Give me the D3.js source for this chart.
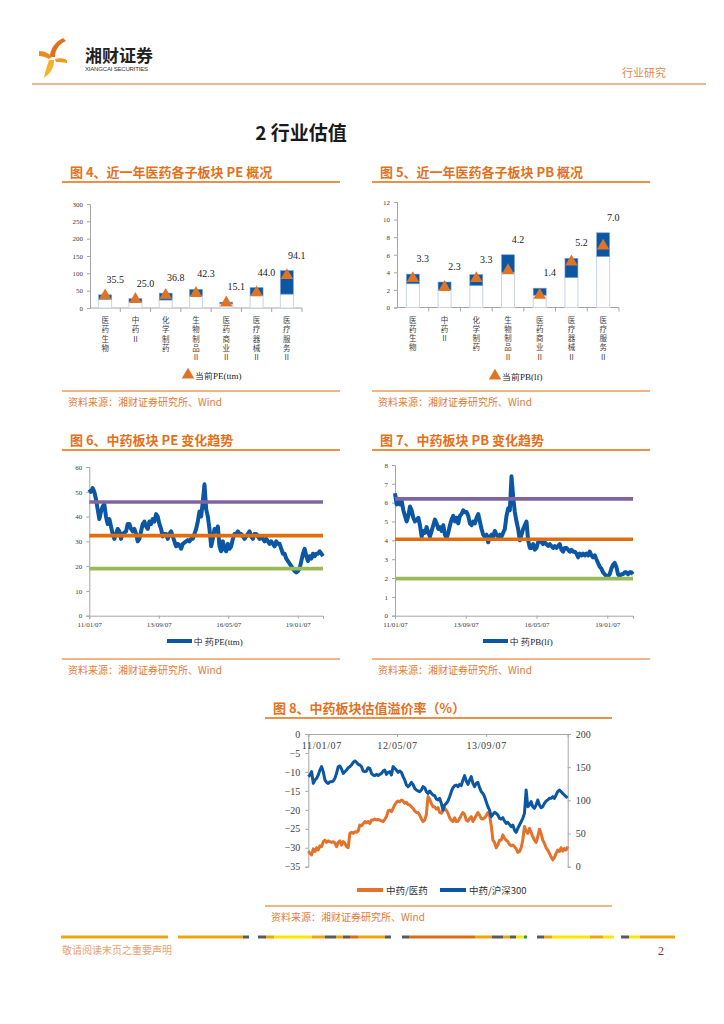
<!DOCTYPE html>
<html><head><meta charset="utf-8">
<script src="https://cdn.jsdelivr.net/npm/d3@7"></script>
<style>body{margin:0;background:#fff} svg{display:block}</style>
</head><body>
<svg id="page" width="724" height="1024"></svg>
<script>
// ---------------- DATA ----------------
const categories = ["医药生物","中药Ⅱ","化学制药","生物制品Ⅱ","医药商业Ⅱ","医疗器械Ⅱ","医疗服务Ⅱ"];
const peLow = [25,17,23,35,12,36,40];
const peHigh = [38,27,43,54,17,59,108];
const peCurrent = [35.5,25.0,36.8,42.3,15.1,44.0,94.1];
const pbLow = [2.7,2.0,2.5,4.0,1.4,3.4,5.8];
const pbHigh = [3.8,2.9,3.75,6.0,2.2,5.6,8.5];
const pbCurrent = [3.3,2.3,3.3,4.2,1.4,5.2,7.0];
const peBarTicks = [0,50,100,150,200,250,300];
const pbBarTicks = [0,2,4,6,8,10,12];

const trendStart = "2011-01-07", trendEnd = "2019-12-27";
const trendTickDates = ["2011-01-07","2013-09-07","2016-05-07","2019-01-07"];
const peTrend = [51,50,51.5,50,47,43,39,42,44,45,40,37,39,36,33,31,33,35,34,31,33,33.5,34,37,37,35,34,35,33,30,
  31,34,37,38,36,35,38,37,39,38,41,40,37,35,32,33,33,31,33,34,32,30,28,29,28.5,27,29,29.5,30,30.5,
  30,31,31,33,35,38,42,40,46,53,43,40,35,28,31,35,34,36,28,26,30,27,26,29,27,28,31,33,33,34,
  33,33,32,31,32,33,34,32,31,33,33,32,31,32,31,30,31,30,29,30,29,28,30,29,29,27,25,25,23,22,
  21,20,19,18,17.5,18,19,22,25,27,24,22,24,23,25,24,25,25,26,25,24];
const peTrendTicks = [0,10,20,30,40,50,60];
const peRefLines = [45.9,32.3,19.0];
const pbTrend = [6.5,5.9,6.2,5.9,6.1,5.6,5.3,5.0,5.3,5.8,5.6,5.2,5.0,5.1,5.2,4.8,4.2,4.5,4.4,4.7,4.4,4.2,4.5,4.8,5.1,4.9,4.6,4.7,4.5,4.8,
  4.3,4.1,4.4,4.8,5.1,5.3,5.0,5.2,4.9,5.3,5.4,5.6,5.5,5.5,5.3,4.9,4.8,5.0,4.9,5.2,5.4,5.0,4.6,4.3,4.2,4.3,3.9,4.2,4.3,4.2,
  4.5,4.3,4.2,4.3,4.2,4.4,4.6,5.3,5.7,5.6,7.4,6.3,5.5,5.0,4.6,4.0,4.3,4.6,4.8,5.0,4.0,3.6,3.6,3.8,3.5,3.6,3.9,4.0,3.9,3.8,
  3.9,3.8,3.7,3.8,3.7,3.6,3.7,3.6,3.7,3.8,3.5,3.4,3.6,3.6,3.5,3.4,3.5,3.4,3.4,3.3,3.1,3.3,3.2,3.3,3.2,3.3,3.2,3.4,3.2,3.1,
  3.2,3.0,2.8,2.6,2.5,2.3,2.2,2.1,2.1,2.2,2.5,2.7,2.8,2.6,2.2,2.1,2.2,2.2,2.3,2.3,2.2,2.3,2.3,2.2];
const pbTrendTicks = [0,1,2,3,4,5,6,7,8];
const pbRefLines = [6.2,4.06,1.97];

const premStart = "2011-01-07", premEnd = "2014-11-28";
const premTickDates = ["2011-01-07","2012-05-07","2013-09-07"];
const premVsMedicine = [-30.9,-31.5,-31.9,-30.3,-31.0,-30.0,-30.6,-29.5,-29.7,-28.4,-28.0,-28.6,-28.2,-28.4,-28.6,-28.4,-28.7,-29.7,-28.6,-28.2,
  -29.3,-28.4,-28.8,-29.7,-30.0,-26.2,-25.9,-26.2,-25.8,-25.9,-25.6,-24.0,-24.2,-23.7,-23.1,-23.4,-23.1,-23.6,-22.7,-22.7,
  -22.4,-22.7,-22.5,-22.7,-22.9,-23.1,-22.5,-21.8,-20.3,-20.1,-20.5,-19.6,-18.7,-18.0,-17.7,-17.9,-17.4,-17.7,-18.3,-18.0,
  -18.6,-18.7,-19.2,-19.6,-20.3,-20.7,-20.7,-21.4,-22.4,-23.1,-22.7,-21.2,-16.5,-17.2,-18.3,-19.2,-19.2,-19.8,-19.4,-20.7,
  -20.9,-20.3,-19.6,-20.1,-20.9,-22.1,-22.7,-23.1,-22.1,-23.1,-23.0,-22.3,-21.4,-20.7,-21.2,-22.7,-23.0,-22.3,-21.8,-23.1,
  -22.3,-21.5,-20.7,-21.4,-22.3,-22.4,-22.1,-21.5,-20.7,-21.5,-24.0,-28.0,-28.6,-30.0,-29.3,-28.0,-28.0,-26.6,-27.5,-28.0,
  -28.4,-29.1,-29.5,-29.3,-29.7,-30.3,-31.2,-31.0,-30.0,-28.0,-24.4,-25.6,-26.2,-24.9,-25.9,-27.1,-28.0,-28.6,-27.1,-25.1,
  -26.2,-28.0,-28.8,-30.0,-30.6,-31.5,-32.4,-33.2,-32.6,-31.5,-30.6,-31.0,-30.0,-30.9,-30.2,-30.6,-29.7];
const premVsHS300 = [135.7,138.2,143.2,125.6,130.7,133.2,138.2,145.7,150.8,143.2,130.7,127.1,125.6,128.1,128.1,129.1,133.2,140.7,150.8,151.8,
  147.2,140.7,143.2,145.7,149.2,150.8,153.3,157.3,159.3,157.3,154.3,153.3,150.8,144.2,143.2,144.2,149.2,148.2,140.7,138.2,
  137.2,139.2,137.2,139.2,140.7,144.2,145.7,139.2,142.2,143.2,138.2,150.8,148.2,145.7,142.2,144.2,142.2,135.7,130.7,123.1,
  120.6,123.1,127.1,124.1,118.1,115.6,114.1,113.1,115.6,120.6,119.1,113.1,110.6,114.1,110.6,108.0,107.0,102.0,100.5,103.0,
  95.5,85.4,93.0,95.5,99.0,105.5,113.1,119.1,122.1,123.1,120.6,124.1,122.1,130.7,137.2,129.1,124.1,130.7,135.7,125.6,
  120.6,125.6,127.1,119.1,113.1,110.6,105.5,98.0,90.5,85.4,75.4,78.9,81.9,80.4,77.9,72.9,71.9,73.9,68.8,65.3,
  66.8,63.8,60.3,62.8,55.3,51.8,57.8,62.8,67.8,72.9,80.4,115.6,90.5,93.0,98.0,90.5,88.0,93.0,100.5,93.0,
  89.0,90.5,95.5,99.0,100.5,103.0,103.0,105.5,103.0,108.0,113.1,115.6,113.1,110.6,108.0,105.5,104.0];
const premLeftTicks = [0,-5,-10,-15,-20,-25,-30,-35];
const premRightTicks = [0,50,100,150,200];

// ---------------- STYLE ----------------
const ORANGE = "#e46c0a", TITLE = "#e4701c", BLUE = "#0b57a4", TRI = "#e07426";
const PURPLE = "#8064a2", GREEN = "#9bbb59", AXIS = "#a6a6a6", TXT = "#404040";
const CJK = "'Noto Sans CJK SC', sans-serif", SERIF = "'Liberation Serif', 'DejaVu Serif', serif";
const svg = d3.select("#page");
const parse = d3.timeParse("%Y-%m-%d");
const fmt = d3.timeFormat("%y/%m/%d");

// ---------------- HEADER ----------------
const logo = svg.append("g");
logo.append("path").attr("d","M63 38 C55 42 50 49 50 57 L55 57 C55 50 59 44 66 41 Z").attr("fill","#e0701c");
logo.append("path").attr("d","M39 51 C45 51 50 54 52 57 L49 59 C46 57 42 56 39 56 Z").attr("fill","#f08a1c");
logo.append("path").attr("d","M55 59 C59 58 63 58 67 60 L67 63 C63 62 59 62 56 62 Z").attr("fill","#f39a1e");
logo.append("path").attr("d","M49 60 L54 60 C54 67 51 73 44 78 C45 72 47 66 49 60 Z").attr("fill","#f7b02a");
svg.append("text").attr("x",85).attr("y",62).attr("font-family",CJK).attr("font-weight",700)
  .attr("font-size",17).attr("fill","#222").text("湘财证券");
svg.append("text").attr("x",85).attr("y",71).attr("font-family","'Liberation Sans Narrow','Liberation Sans',sans-serif")
  .attr("font-size",6).attr("fill","#333").attr("textLength",63).text("XIANGCAI SECURITIES");
svg.append("text").attr("x",622).attr("y",77).attr("font-family",CJK).attr("font-size",11)
  .attr("fill","#e08a50").text("行业研究");
svg.append("line").attr("x1",32).attr("x2",706).attr("y1",84).attr("y2",84)
  .attr("stroke","#e4a070").attr("stroke-width",1.5);
svg.append("text").attr("x",301).attr("y",140).attr("text-anchor","middle").attr("font-family",CJK)
  .attr("font-weight",700).attr("font-size",19).attr("fill","#1a1a1a").text("2 行业估值");

// ---------------- HELPERS ----------------
function frame(x0, x1, titleY, title, sourceLineY) {
  svg.append("text").attr("x",x0+8).attr("y",titleY).attr("font-family",CJK).attr("font-weight",700)
    .attr("font-size",13).attr("fill",TITLE).text(title);
  svg.append("line").attr("x1",x0).attr("x2",x1).attr("y1",titleY+5).attr("y2",titleY+5)
    .attr("stroke",ORANGE).attr("stroke-width",1.4);
  svg.append("line").attr("x1",x0).attr("x2",x1).attr("y1",sourceLineY).attr("y2",sourceLineY)
    .attr("stroke",ORANGE).attr("stroke-width",1);
  svg.append("text").attr("x",x0+6).attr("y",sourceLineY+15).attr("font-family",CJK)
    .attr("font-size",10).attr("fill","#e07b39").text("资料来源：湘财证券研究所、Wind");
}
function styleAxis(g, fs) {
  g.select(".domain").attr("stroke",AXIS);
  g.selectAll(".tick line").attr("stroke",AXIS);
  g.selectAll(".tick text").attr("fill",TXT).attr("font-family",SERIF).attr("font-size",fs);
}

function barChart(c) {
  const x = d3.scaleBand().domain(categories).range([c.x0,c.x1]).paddingInner(0).paddingOuter(0);
  const y = d3.scaleLinear().domain([0,c.ticks[c.ticks.length-1]]).range([c.y0,c.y1]);
  const g = svg.append("g");
  const ay = g.append("g").attr("transform",`translate(${c.x0},0)`)
    .call(d3.axisLeft(y).tickValues(c.ticks).tickSize(3).tickPadding(4));
  styleAxis(ay, 7);
  g.append("line").attr("x1",c.x0).attr("x2",c.x1).attr("y1",c.y0).attr("y2",c.y0).attr("stroke",AXIS);
  g.selectAll(".bt").data(categories).enter().append("line")
    .attr("x1",d=>x(d)+x.bandwidth()).attr("x2",d=>x(d)+x.bandwidth())
    .attr("y1",c.y0).attr("y2",c.y0+4).attr("stroke",AXIS);
  const bw = 13;
  const cx = d => x(d) + x.bandwidth()/2;
  g.selectAll(".lowbar").data(categories).enter().append("rect")
    .attr("x",d=>cx(d)-bw/2).attr("width",bw)
    .attr("y",(d,i)=>y(c.low[i])).attr("height",(d,i)=>c.y0-y(c.low[i]))
    .attr("fill","#fff").attr("stroke","#c8d4e8").attr("stroke-width",1);
  g.selectAll(".rangebar").data(categories).enter().append("rect")
    .attr("x",d=>cx(d)-bw/2).attr("width",bw)
    .attr("y",(d,i)=>y(c.high[i])).attr("height",(d,i)=>y(c.low[i])-y(c.high[i]))
    .attr("fill",BLUE).attr("stroke","#7fa6d6").attr("stroke-width",0.6);
  const tri = d3.symbol().type(d3.symbolTriangle).size(68);
  g.selectAll(".tri").data(categories).enter().append("path")
    .attr("d",tri).attr("fill",TRI)
    .attr("transform",(d,i)=>`translate(${cx(d)},${y(c.cur[i])})`);
  g.selectAll(".lbl").data(categories).enter().append("text")
    .attr("x",d=>cx(d)+10).attr("y",(d,i)=>y(c.high[i])-12).attr("text-anchor","middle")
    .attr("font-family",SERIF).attr("font-size",10).attr("fill","#222")
    .text((d,i)=>c.cur[i].toFixed(1));
  categories.forEach(cat => {
    Array.from(cat).forEach((ch,k) => {
      g.append("text").attr("x",cx(cat)).attr("y",c.y0+15+k*9.3).attr("text-anchor","middle")
        .attr("font-family",CJK).attr("font-size",7.5).attr("fill",TXT).text(ch);
    });
  });
  g.append("path").attr("d",tri).attr("fill",TRI).attr("transform",`translate(${c.legX},${c.legY})`);
  g.append("text").attr("x",c.legX+7).attr("y",c.legY+3.5).attr("font-family",SERIF)
    .attr("font-size",9).attr("fill","#222").text(c.legText);
}

function trendChart(c) {
  const n = c.series.length;
  const t0 = parse(c.start), t1 = parse(c.end);
  const dates = c.series.map((v,i)=> new Date(+t0 + (t1 - t0) * i/(n-1)));
  const x = d3.scaleTime().domain([t0,t1]).range([c.x0,c.x1]);
  const y = d3.scaleLinear().domain([0,c.ticks[c.ticks.length-1]]).range([c.y0,c.y1]);
  const g = svg.append("g");
  const ay = g.append("g").attr("transform",`translate(${c.x0},0)`)
    .call(d3.axisLeft(y).tickValues(c.ticks).tickSize(3).tickPadding(4));
  styleAxis(ay, 7);
  const ax = g.append("g").attr("transform",`translate(0,${c.y0})`)
    .call(d3.axisBottom(x).tickValues(c.tickDates.map(parse)).tickFormat(fmt).tickSize(3).tickPadding(3));
  styleAxis(ax, 7);
  const line = d3.line().x((d,i)=>x(dates[i])).y(d=>y(d)).curve(d3.curveLinear);
  g.append("path").datum(c.series).attr("d",line).attr("fill","none").attr("stroke",BLUE)
    .attr("stroke-width",4).attr("stroke-linejoin","round");
  const refColors = [PURPLE, ORANGE, GREEN];
  g.selectAll(".ref").data(c.refs).enter().append("line")
    .attr("x1",c.x0).attr("x2",c.x1).attr("y1",d=>y(d)).attr("y2",d=>y(d))
    .attr("stroke",(d,i)=>refColors[i]).attr("stroke-width",3.6);
  g.append("line").attr("x1",c.legX).attr("x2",c.legX+25).attr("y1",c.legY).attr("y2",c.legY)
    .attr("stroke",BLUE).attr("stroke-width",4);
  g.append("text").attr("x",c.legX+27).attr("y",c.legY+3.5).attr("font-family",SERIF)
    .attr("font-size",9).attr("fill","#222").text(c.legText);
}

// ---------------- CHARTS 4 & 5 ----------------
frame(62,340,177,"图 4、近一年医药各子板块 PE 概况",391);
frame(372,650,177,"图 5、近一年医药各子板块 PB 概况",391);
barChart({x0:90,x1:302,y0:308,y1:204,ticks:peBarTicks,low:peLow,high:peHigh,cur:peCurrent,
  legX:188,legY:375,legText:"当前PE(ttm)"});
barChart({x0:397,x1:619,y0:307.5,y1:202,ticks:pbBarTicks,low:pbLow,high:pbHigh,cur:pbCurrent,
  legX:495,legY:376,legText:"当前PB(lf)"});

// ---------------- CHARTS 6 & 7 ----------------
frame(62,340,445,"图 6、中药板块 PE 变化趋势",659);
frame(372,650,445,"图 7、中药板块 PB 变化趋势",659);
trendChart({x0:89.3,x1:323,y0:615.7,y1:467,ticks:peTrendTicks,series:peTrend,refs:peRefLines,
  start:trendStart,end:trendEnd,tickDates:trendTickDates,legX:167,legY:641,legText:"中 药PE(ttm)"});
trendChart({x0:395,x1:633,y0:615.7,y1:465,ticks:pbTrendTicks,series:pbTrend,refs:pbRefLines,
  start:trendStart,end:trendEnd,tickDates:trendTickDates,legX:483,legY:641,legText:"中 药PB(lf)"});

// ---------------- CHART 8 ----------------
frame(265,612,713,"图 8、中药板块估值溢价率（%）",906);
(function(){
  const x0 = 308.3, x1 = 567.7, y0 = 866.7, y1 = 734;
  const n = premVsMedicine.length;
  const t0 = parse(premStart), t1 = parse(premEnd);
  const dates = premVsMedicine.map((v,i)=> new Date(+t0 + (t1-t0)*i/(n-1)));
  const x = d3.scaleTime().domain([t0,t1]).range([x0,x1]);
  const yL = d3.scaleLinear().domain([-35,0]).range([y0,y1]);
  const yR = d3.scaleLinear().domain([0,200]).range([y0,y1]);
  const g = svg.append("g");
  const aL = g.append("g").attr("transform",`translate(${x0},0)`)
    .call(d3.axisLeft(yL).tickValues(premLeftTicks).tickSize(3).tickPadding(5));
  styleAxis(aL, 10);
  const aR = g.append("g").attr("transform",`translate(${x1},0)`)
    .call(d3.axisRight(yR).tickValues(premRightTicks).tickSize(3).tickPadding(5));
  styleAxis(aR, 10);
  const aX = g.append("g").attr("transform",`translate(0,${y1})`)
    .call(d3.axisBottom(x).tickValues(premTickDates.map(parse)).tickFormat(d=>fmt(d)).tickSize(3).tickPadding(5));
  styleAxis(aX, 10);
  aX.selectAll(".tick text").attr("letter-spacing",0.6);
  // first date label nudged right so it does not collide with the "-5" tick label
  aX.selectAll(".tick text").filter((d,i)=>i===0).attr("text-anchor","start").attr("dx",-7);
  const lineL = d3.line().x((d,i)=>x(dates[i])).y(d=>yL(d));
  const lineR = d3.line().x((d,i)=>x(dates[i])).y(d=>yR(d));
  g.append("path").datum(premVsMedicine).attr("d",lineL).attr("fill","none").attr("stroke","#e4722a")
    .attr("stroke-width",3).attr("stroke-linejoin","round");
  g.append("path").datum(premVsHS300).attr("d",lineR).attr("fill","none").attr("stroke",BLUE)
    .attr("stroke-width",3).attr("stroke-linejoin","round");
  const leg = [{c:"#e4722a",t:"中药/医药",x:357},{c:BLUE,t:"中药/沪深300",x:440}];
  leg.forEach(l=>{
    g.append("line").attr("x1",l.x).attr("x2",l.x+26).attr("y1",890).attr("y2",890)
      .attr("stroke",l.c).attr("stroke-width",4);
    g.append("text").attr("x",l.x+29).attr("y",894).attr("font-family",CJK).attr("font-size",9.5)
      .attr("fill","#333").text(l.t);
  });
})();

// ---------------- FOOTER ----------------
const fsegs = [[61,168,"#f0a30a"],[178,243,"#f0a30a"],[243,249,"#5a5a5a"],
  [258,266,"#5a5a5a"],[266,274,"#f0a30a"],[274,312,"#ffe600"],[312,325,"#f0a30a"],[325,336,"#5a5a5a"],[336,343,"#f0a30a"],
  [343,350,"#5a5a5a"],[350,358,"#e06a10"],[358,385,"#f0a30a"],[385,391,"#5a5a5a"],
  [402,409,"#5a5a5a"],[409,475,"#e06a10"],[475,492,"#f0a30a"],[492,503,"#5a5a5a"],[503,510,"#f0a30a"],[510,516,"#5a5a5a"],
  [516,524,"#ffe600"],[524,527,"#2a9a3a"],
  [537,544,"#5a5a5a"],[544,552,"#f0a30a"],[552,590,"#ffe600"],[590,603,"#f0a30a"],[603,614,"#ffe600"],
  [621,629,"#5a5a5a"],[629,640,"#ffe600"],[640,675,"#f0a30a"]];
svg.append("g").selectAll("rect").data(fsegs).enter().append("rect")
  .attr("x",d=>d[0]).attr("width",d=>d[1]-d[0]).attr("y",935.5).attr("height",3).attr("fill",d=>d[2]);
svg.append("text").attr("x",62).attr("y",954).attr("font-family",CJK).attr("font-size",10)
  .attr("fill","#e8a070").text("敬请阅读末页之重要声明");
svg.append("text").attr("x",658).attr("y",955).attr("font-family",SERIF).attr("font-size",12)
  .attr("fill","#9b1b30").text("2");
</script>
</body></html>
